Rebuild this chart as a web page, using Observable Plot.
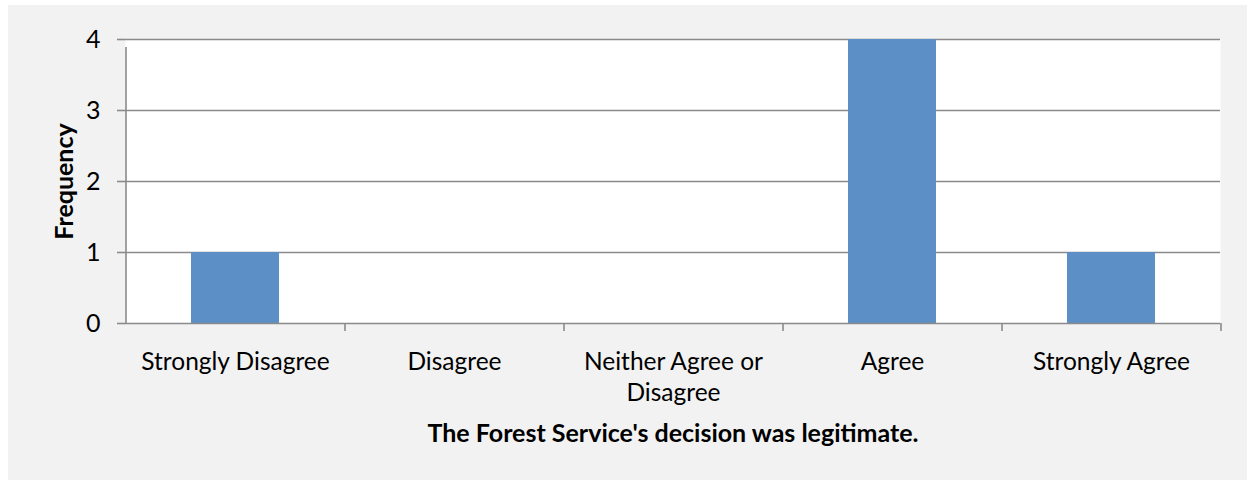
<!DOCTYPE html>
<html>
<head>
<meta charset="utf-8">
<script src="https://cdn.jsdelivr.net/npm/d3@7"></script>
<script src="https://cdn.jsdelivr.net/npm/@observablehq/plot@0.6"></script>
<style>
  html, body { margin: 0; padding: 0; background: #ffffff; }
  #wrap { position: absolute; left: 8px; top: 5px; width: 1239px; height: 475px; background: #f2f2f2; overflow: hidden; }
  #wrap svg { display: block; }
</style>
</head>
<body>
<div id="wrap"></div>
<script>
const categories = ["Strongly Disagree", "Disagree", "Neither Agree or Disagree", "Agree", "Strongly Agree"];
const categoryLabels = ["Strongly Disagree", "Disagree", "Neither Agree or\nDisagree", "Agree", "Strongly Agree"];
const frequencies = [1, 0, 0, 4, 1];
const yTicks = [0, 1, 2, 3, 4];
const xTitle = "The Forest Service's decision was legitimate.";
const yTitle = "Frequency";

const data = categories.map((c, i) => ({category: c, value: frequencies[i]}));

const W = 1239, H = 475;
const mL = 117, mR = 27, mT = 34, mB = 157;
const step = (W - mL - mR) / categories.length;
const gridColor = "#8a8a8a";
const font = "Lato, 'Open Sans', sans-serif";

const chart = Plot.plot({
  width: W,
  height: H,
  marginLeft: mL,
  marginRight: mR,
  marginTop: mT,
  marginBottom: mB,
  style: {background: "transparent", fontFamily: font, fontSize: "24px", color: "#000"},
  x: {domain: categories, paddingInner: 0.6, paddingOuter: 0.3},
  y: {domain: [0, 4]},
  marks: [
    Plot.frame({fill: "white", stroke: null}),
    Plot.gridY(yTicks.filter(d => d > 0), {stroke: gridColor, strokeOpacity: 1, strokeWidth: 1.6}),
    Plot.barY(data, {x: "category", y: "value", fill: "#5b8fc5"}),
    Plot.ruleY([0], {stroke: gridColor, strokeWidth: 1.6}),
    // y-axis line
    Plot.ruleX([categories[0]], {x: d => d, dx: -step / 2, y1: 0, y2: 4, insetBottom: -8, stroke: gridColor, strokeWidth: 1.6}),
    // category boundary ticks
    Plot.ruleX(categories.slice(1), {x: d => d, dx: -step / 2, y1: 0, y2: 0, insetBottom: -8, stroke: gridColor, strokeWidth: 1.6}),
    Plot.ruleX([categories[categories.length - 1]], {x: d => d, dx: step / 2, y1: 0, y2: 0, insetBottom: -8, stroke: gridColor, strokeWidth: 1.6}),
    Plot.axisY({ticks: yTicks, tickFormat: d3.format("d"), tickSize: 8, tickPadding: 17, stroke: gridColor, strokeWidth: 1.6, strokeOpacity: 1, label: null, fontSize: 25, fill: "#000"}),
    Plot.axisX({tickSize: 0, tickPadding: 24, label: null, fontSize: 24.5, fill: "#000", lineHeight: 1.27,
      tickFormat: d => categoryLabels[categories.indexOf(d)]}),
    Plot.text([yTitle], {frameAnchor: "left", textAnchor: "middle", dx: -61, rotate: -90, fontWeight: "bold", fontSize: 25, fill: "#000"}),
    Plot.text([xTitle], {frameAnchor: "bottom", textAnchor: "middle", dy: 118, fontWeight: "bold", fontSize: 25, fill: "#000"})
  ]
});

document.getElementById("wrap").appendChild(chart);
</script>
</body>
</html>
